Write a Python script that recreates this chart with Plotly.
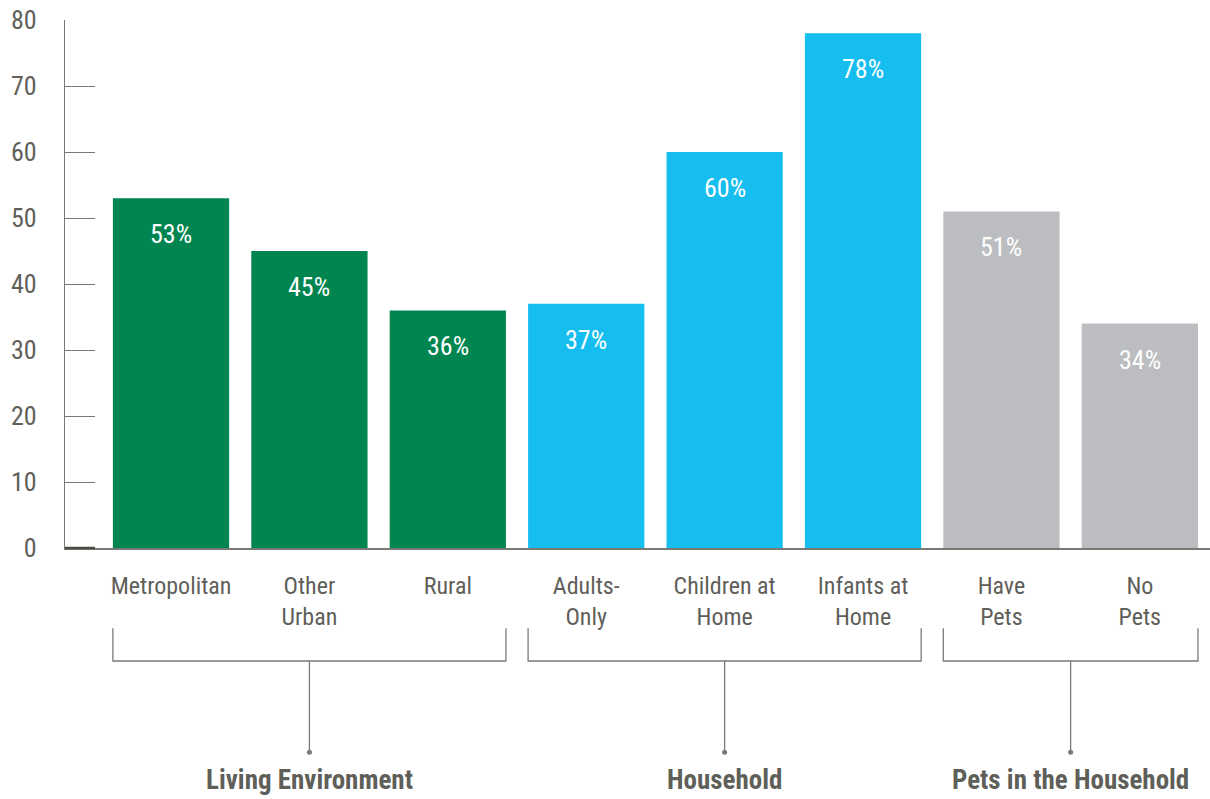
import plotly.graph_objects as go

# Survey shares by segment
categories = ["Metropolitan", "Other<br>Urban", "Rural", "Adults-<br>Only",
              "Children at<br>Home", "Infants at<br>Home", "Have<br>Pets", "No<br>Pets"]
values = [53, 45, 36, 37, 60, 78, 51, 34]
groups = ["Living Environment", "Household", "Pets in the Household"]
group_members = [[0, 1, 2], [3, 4, 5], [6, 7]]
y_ticks = [0, 10, 20, 30, 40, 50, 60, 70, 80]

GREEN = "#008551"
BLUE = "#16bdef"
GREY = "#bcbdc0"
group_colors = [GREEN, BLUE, GREY]
TEXT = "#5f5f5a"
LINE = "#7a7a75"
FONT = "Liberation Sans Narrow, Roboto Condensed, Noto Sans, sans-serif"

bar_colors = []
for g, members in enumerate(group_members):
    bar_colors += [group_colors[g]] * len(members)

x_pos = list(range(len(categories)))
BAR_W = 0.84
X_RANGE = [-0.766, 7.507]

fig = go.Figure(go.Bar(
    x=x_pos, y=values, width=BAR_W,
    marker=dict(color=bar_colors, line=dict(width=0)),
    hoverinfo="skip",
))

# value labels just inside the top of each bar
for x, v in zip(x_pos, values):
    fig.add_annotation(x=x, y=v, text=f"{v}%", showarrow=False,
                       yanchor="top", yshift=-19,
                       font=dict(family=FONT, size=26, color="white"))


def px_x(v):
    return (v - X_RANGE[0]) / (X_RANGE[1] - X_RANGE[0])


# darker tick at the baseline
fig.add_shape(type="line", xref="paper", yref="paper", x0=0, x1=30 / 1145,
              y0=0, y1=0, line=dict(color="#4a4a45", width=2.5))

# group brackets beneath the category labels
BRACKET_Y = -0.214
END_Y = -0.152
STEM_Y = -0.387
for name, members in zip(groups, group_members):
    left = px_x(members[0] - BAR_W / 2)
    right = px_x(members[-1] + BAR_W / 2)
    mid = px_x((members[0] + members[-1]) / 2)
    path = (f"M{left},{END_Y} L{left},{BRACKET_Y} L{right},{BRACKET_Y} "
            f"L{right},{END_Y} M{mid},{BRACKET_Y} L{mid},{STEM_Y}")
    fig.add_shape(type="path", path=path, xref="paper", yref="paper",
                  line=dict(color=LINE, width=1.3))
    fig.add_shape(type="circle", xref="paper", yref="paper",
                  xsizemode="pixel", ysizemode="pixel",
                  xanchor=mid, yanchor=STEM_Y, x0=-2.5, x1=2.5, y0=-2.5, y1=2.5,
                  fillcolor=LINE, line=dict(width=0))
    fig.add_annotation(x=mid, y=-0.440, xref="paper", yref="paper", text=f"<b>{name}</b>",
                       showarrow=False, xanchor="center", yanchor="middle",
                       font=dict(family=FONT, size=27, color=TEXT))

fig.update_layout(
    width=1210, height=799,
    margin=dict(l=65, r=0, t=20, b=251),
    plot_bgcolor="white", paper_bgcolor="white",
    showlegend=False, bargap=0.16,
    xaxis=dict(range=X_RANGE, tickmode="array", tickvals=x_pos, ticktext=categories,
               showgrid=False, zeroline=False, showline=True, linecolor=LINE,
               linewidth=1.5, ticks="", ticklabelstandoff=15,
               tickfont=dict(family=FONT, size=24, color=TEXT)),
    yaxis=dict(range=[0, 80], tickmode="array", tickvals=y_ticks,
               showgrid=False, zeroline=False, showline=True, linecolor=LINE,
               linewidth=1.3, ticks="inside", ticklen=30, tickcolor=LINE, tickwidth=1.3,
               ticklabelstandoff=22,
               tickfont=dict(family=FONT, size=26, color=TEXT)),
)

fig.write_html("out.html")
